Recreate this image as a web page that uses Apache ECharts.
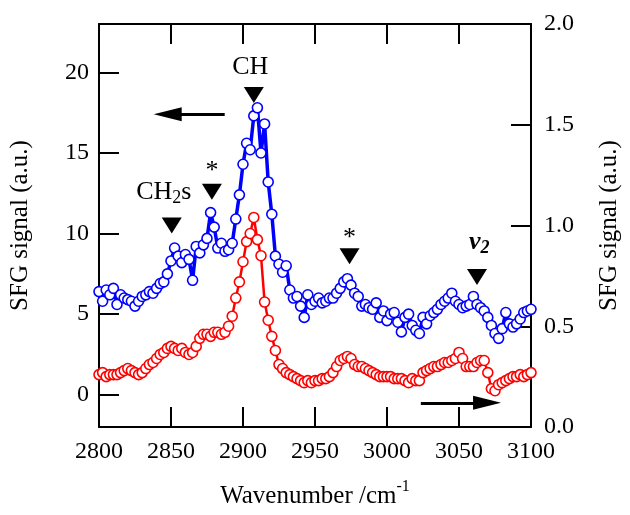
<!DOCTYPE html>
<html><head><meta charset="utf-8">
<script src="https://cdn.jsdelivr.net/npm/echarts@6/dist/echarts.min.js"></script>
<style>html,body{margin:0;padding:0;background:#fff}#c{width:630px;height:515px}</style>
</head><body><div id="c"></div>
<script>
const wavenumber = [2800,2802.5,2805,2807.5,2810,2812.5,2815,2817.5,2820,2822.5,2825,2827.5,2830,2832.5,2835,2837.5,2840,2842.5,2845,2847.5,2850,2852.5,2855,2857.5,2860,2862.5,2865,2867.5,2870,2872.5,2875,2877.5,2880,2882.5,2885,2887.5,2890,2892.5,2895,2897.5,2900,2902.5,2905,2907.5,2910,2912.5,2915,2917.5,2920,2922.5,2925,2927.5,2930,2932.5,2935,2937.5,2940,2942.5,2945,2947.5,2950,2952.5,2955,2957.5,2960,2962.5,2965,2967.5,2970,2972.5,2975,2977.5,2980,2982.5,2985,2987.5,2990,2992.5,2995,2997.5,3000,3002.5,3005,3007.5,3010,3012.5,3015,3017.5,3020,3022.5,3025,3027.5,3030,3032.5,3035,3037.5,3040,3042.5,3045,3047.5,3050,3052.5,3055,3057.5,3060,3062.5,3065,3067.5,3070,3072.5,3075,3077.5,3080,3082.5,3085,3087.5,3090,3092.5,3095,3097.5,3100];
// blue: left axis
const blueSignal = [6.4,5.8,6.5,6.2,6.6,5.6,6.2,6.0,5.9,5.8,5.5,5.8,6.1,6.2,6.4,6.3,6.6,6.9,7.0,7.5,8.3,9.1,8.6,8.2,8.7,8.4,7.1,9.2,8.8,9.3,9.7,11.3,10.4,9.1,9.4,8.9,9.0,9.4,10.9,12.4,14.3,15.6,15.2,17.3,17.8,15.0,16.8,13.2,11.2,8.6,8.1,7.6,8.0,6.5,6.0,6.1,5.5,4.8,6.2,5.6,5.8,6.0,5.7,5.8,6.0,6.0,6.3,6.6,7.0,7.2,6.8,6.3,6.1,5.5,5.6,5.4,5.3,5.7,4.8,5.2,4.6,5.0,5.1,4.5,3.9,4.8,5.0,4.3,4.0,3.8,4.8,4.4,4.9,5.1,5.3,5.6,5.8,6.0,6.3,5.8,5.6,5.4,5.5,5.6,6.1,5.6,5.4,5.2,4.8,4.3,3.8,3.5,4.1,5.1,4.4,4.2,4.4,4.7,5.1,5.2,5.3];
// red: right axis
const redSignal = [0.26,0.27,0.25,0.26,0.26,0.26,0.27,0.28,0.29,0.28,0.27,0.26,0.27,0.29,0.31,0.32,0.34,0.36,0.37,0.39,0.40,0.39,0.38,0.39,0.37,0.36,0.37,0.40,0.44,0.46,0.46,0.45,0.47,0.47,0.46,0.47,0.50,0.55,0.64,0.72,0.82,0.92,0.96,1.04,0.93,0.85,0.62,0.53,0.45,0.38,0.31,0.29,0.27,0.26,0.25,0.24,0.23,0.22,0.23,0.22,0.23,0.23,0.24,0.24,0.25,0.27,0.30,0.33,0.34,0.35,0.34,0.31,0.30,0.30,0.29,0.28,0.27,0.26,0.25,0.25,0.25,0.25,0.24,0.24,0.24,0.23,0.22,0.24,0.23,0.23,0.27,0.28,0.29,0.30,0.30,0.31,0.32,0.32,0.33,0.34,0.37,0.34,0.30,0.30,0.30,0.32,0.33,0.33,0.27,0.19,0.18,0.21,0.22,0.23,0.24,0.25,0.25,0.26,0.25,0.26,0.27];
const xTicks = [2800, 3100, 50];
const leftRange = [-2, 23];
const rightRange = [0, 2, 0.5];
// annotation markers (left axis units)
const markerX = [2907.5, 2850.5, 2878.4, 2974, 3062.5];
const markerY = [18.6, 10.5, 12.6, 8.6, 7.3];
const labelText = ['CH', '{n|CH}{s|2}{n|s}', '*', '*', '{v|v}{vs|2}'];
const labelX = [2905, 2845, 2878.4, 2974, 3064];
const labelY = [20.3, 12.55, 13.9, 9.7, 9.45];

const FONT = 'Liberation Serif';
const chart = echarts.init(document.getElementById('c'), null, {renderer: 'canvas'});
const pair = (xs, ys) => xs.map((x, i) => [x, ys[i]]);
const axisLine = {show: true, onZero: false, lineStyle: {color: '#000', width: 2}};
const tick = {show: true, inside: true, length: 20, lineStyle: {color: '#000', width: 2}};

chart.setOption({
  animation: false,
  grid: {left: 99, right: 91, top: 24, bottom: 88, containLabel: false},
  xAxis: [
    {type: 'value', min: xTicks[0], max: xTicks[1], interval: xTicks[2], position: 'bottom',
     axisLine, axisTick: tick, splitLine: {show: false},
     axisLabel: {color: '#000', fontFamily: FONT, fontSize: 24, margin: 13, formatter: v => String(v)},
     name: '{t|Wavenumber /cm}{sup|-1}', nameLocation: 'middle', nameGap: 52,
     nameTextStyle: {rich: {t: {fontFamily: FONT, fontSize: 25, color: '#000'}, sup: {fontFamily: FONT, fontSize: 16, color: '#000', verticalAlign: 'top', padding: [0, 0, 18, 0]}}}},
    {type: 'value', min: xTicks[0], max: xTicks[1], interval: xTicks[2], position: 'top',
     axisLine, axisTick: tick, axisLabel: {show: false}, splitLine: {show: false}}
  ],
  yAxis: [
    {type: 'value', min: leftRange[0], max: leftRange[1], splitNumber: 5, position: 'left',
     axisLine, axisTick: tick, splitLine: {show: false},
     axisLabel: {color: '#000', fontFamily: FONT, fontSize: 24, margin: 10, showMinLabel: false, showMaxLabel: false,
       formatter: v => (v % 5 === 0 ? String(v) : '')},
     name: 'SFG signal (a.u.)', nameLocation: 'middle', nameGap: 66, nameRotate: 90,
     nameTextStyle: {fontFamily: FONT, fontSize: 25, color: '#000'}},
    {type: 'value', min: rightRange[0], max: rightRange[1], interval: rightRange[2], position: 'right',
     axisLine, axisTick: tick, splitLine: {show: false},
     axisLabel: {color: '#000', fontFamily: FONT, fontSize: 24, margin: 13, formatter: v => v.toFixed(1)},
     name: 'SFG signal (a.u.)', nameLocation: 'middle', nameGap: 66, nameRotate: 90,
     nameTextStyle: {fontFamily: FONT, fontSize: 25, color: '#000'}}
  ],
  series: [
    {type: 'line', name: 'red', xAxisIndex: 0, yAxisIndex: 1, data: pair(wavenumber, redSignal),
     symbol: 'circle', symbolSize: 10, showAllSymbol: true,
     lineStyle: {color: '#ff0000', width: 2.5}, itemStyle: {color: '#fff', borderColor: '#ff0000', borderWidth: 1.6}, z: 2,
     markLine: {silent: true, symbol: ['none', 'triangle'], symbolSize: [14, 28], label: {show: false},
       lineStyle: {color: '#000', width: 3, type: 'solid', opacity: 1},
       data: [[{coord: [3023.5, 0.12]}, {coord: [3069.5, 0.12]}]]}},
    {type: 'line', name: 'blue', xAxisIndex: 0, yAxisIndex: 0, data: pair(wavenumber, blueSignal),
     symbol: 'circle', symbolSize: 10, showAllSymbol: true,
     lineStyle: {color: '#0000ff', width: 3.5}, itemStyle: {color: '#fff', borderColor: '#0000ff', borderWidth: 1.6}, z: 3,
     markLine: {silent: true, symbol: ['none', 'triangle'], symbolSize: [14, 28], label: {show: false},
       lineStyle: {color: '#000', width: 3, type: 'solid', opacity: 1},
       data: [[{coord: [2887.3, 17.4]}, {coord: [2847.7, 17.4]}]]}},
    {type: 'scatter', xAxisIndex: 0, yAxisIndex: 0, data: pair(markerX, markerY),
     symbol: 'triangle', symbolRotate: 180, symbolSize: [20, 16], itemStyle: {color: '#000', opacity: 1}, z: 5, silent: true},
    {type: 'scatter', xAxisIndex: 0, yAxisIndex: 0, data: pair(labelX, labelY).map((p, i) => ({value: p, label: {formatter: labelText[i]}})),
     symbolSize: 0, z: 6, silent: true, itemStyle: {opacity: 1},
     label: {show: true, position: 'inside', color: '#000', fontFamily: FONT, fontSize: 26,
       rich: {n: {fontFamily: FONT, fontSize: 26, color: '#000'},
              s: {fontFamily: FONT, fontSize: 18, color: '#000', padding: [12, 0, 0, 0]},
              v: {fontFamily: FONT, fontSize: 26, color: '#000', fontStyle: 'italic', fontWeight: 'bold'},
              vs: {fontFamily: FONT, fontSize: 18, color: '#000', fontStyle: 'italic', fontWeight: 'bold', padding: [12, 0, 0, 0]}}}}
  ]
});
</script></body></html>
